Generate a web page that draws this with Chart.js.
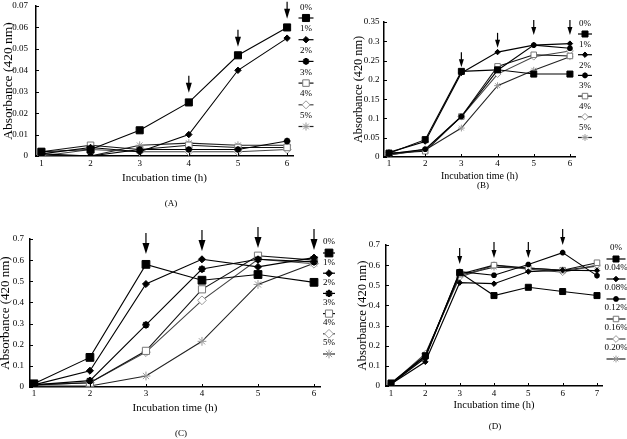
<!DOCTYPE html>
<html>
<head>
<meta charset="utf-8">
<script src="https://cdn.jsdelivr.net/npm/chart.js@4.4.1/dist/chart.umd.min.js"></script>
<style>
  body { margin: 0; background: #fff; width: 627px; height: 439px; position: relative; overflow: hidden;
         font-family: "Liberation Serif", "Times New Roman", serif; }
  canvas { position: absolute; }
  .tag { position: absolute; font-size: 9px; color: #000; transform: translate(-50%, -50%); white-space: nowrap; }
</style>
</head>
<body>
<canvas id="cA" width="320" height="200" style="left:0;top:0"></canvas>
<canvas id="cB" width="297" height="200" style="left:330px;top:0"></canvas>
<canvas id="cC" width="345" height="229" style="left:-3px;top:210px"></canvas>
<canvas id="cD" width="282" height="229" style="left:345px;top:210px"></canvas>
<div class="tag" style="left:171px;top:203px">(A)</div>
<div class="tag" style="left:483px;top:185px">(B)</div>
<div class="tag" style="left:181px;top:433px">(C)</div>
<div class="tag" style="left:495px;top:426px">(D)</div>

<script>
/* ── Data ─────────────────────────────────── */
const hours6 = [1, 2, 3, 4, 5, 6];
const hours7 = [1, 2, 3, 4, 5, 6, 7];
const saltLabels = ['0%', '1%', '2%', '3%', '4%', '5%'];
const extractLabels = ['0%', '0.04%', '0.08%', '0.12%', '0.16%', '0.20%'];

// (A)
const absA = [
  [0.002, 0.003, 0.012, 0.025, 0.047, 0.060],
  [0.001, 0.004, 0.002, 0.010, 0.040, 0.055],
  [0.001, 0.000, 0.003, 0.003, 0.003, 0.007],
  [0.002, 0.005, 0.003, 0.005, 0.004, 0.004],
  [0.000, 0.003, 0.002, 0.002, 0.002, 0.003],
  [0.000, 0.000, 0.005, 0.006, 0.005, 0.005],
];
// (B)
const absB = [
  [0.010, 0.045, 0.222, 0.226, 0.215, 0.215],
  [0.012, 0.040, 0.218, 0.272, 0.290, 0.294],
  [0.008, 0.020, 0.105, 0.225, 0.290, 0.282],
  [0.010, 0.015, 0.105, 0.235, 0.265, 0.262],
  [0.005, 0.020, 0.105, 0.215, 0.260, 0.275],
  [0.005, 0.018, 0.075, 0.185, 0.225, 0.260],
];
// (C)
const absC = [
  [0.015, 0.140, 0.580, 0.505, 0.532, 0.495],
  [0.010, 0.077, 0.487, 0.604, 0.568, 0.612],
  [0.010, 0.030, 0.294, 0.558, 0.604, 0.592],
  [0.010, 0.020, 0.171, 0.462, 0.621, 0.600],
  [0.010, 0.020, 0.165, 0.410, 0.604, 0.583],
  [0.005, 0.005, 0.052, 0.216, 0.485, 0.585],
];
// (D)
const absD = [
  [0.015, 0.150, 0.563, 0.449, 0.490, 0.469, 0.449],
  [0.010, 0.120, 0.513, 0.508, 0.568, 0.575, 0.573],
  [0.010, 0.140, 0.568, 0.550, 0.603, 0.662, 0.548],
  [0.010, 0.150, 0.555, 0.600, 0.585, 0.575, 0.612],
  [0.010, 0.160, 0.540, 0.600, 0.580, 0.565, 0.600],
  [0.010, 0.150, 0.550, 0.590, 0.585, 0.575, 0.595],
];

const ticksA = [0, 0.01, 0.02, 0.03, 0.04, 0.05, 0.06, 0.07];
const tickLabelsA = ['0', '0.01', '0.02', '0.03', '0.04', '0.05', '0.06', '0.07'];
const ticksB = [0, 0.05, 0.1, 0.15, 0.2, 0.25, 0.3, 0.35];
const tickLabelsB = ['0', '0.05', '0.1', '0.15', '0.2', '0.25', '0.3', '0.35'];
const ticksCD = [0, 0.1, 0.2, 0.3, 0.4, 0.5, 0.6, 0.7];
const tickLabelsCD = ['0', '0.1', '0.2', '0.3', '0.4', '0.5', '0.6', '0.7'];

// arrows: hour and absorbance of the arrow tip
const arrowHoursA = [4, 5, 6];
const arrowTipsA = [0.0295, 0.051, 0.064];
const arrowHoursB = [3, 4, 5, 6];
const arrowTipsB = [0.233, 0.283, 0.316, 0.316];
const arrowHoursC = [3, 4, 5, 6];
const arrowTipsC = [0.629, 0.643, 0.657, 0.648];
const arrowHoursD = [3, 4, 5, 6];
const arrowTipsD = [0.606, 0.635, 0.635, 0.70];

/* ── Styles ───────────────────────────────── */
const FONT = '"Liberation Serif", "Times New Roman", serif';
const seriesStyle = [
  { pointStyle: 'rect',    r: 5,   bw: 1,   fill: '#000', stroke: '#000', line: '#000' },
  { pointStyle: 'rectRot', r: 3.2, bw: 1,   fill: '#000', stroke: '#000', line: '#000' },
  { pointStyle: 'star',    r: 3.3, bw: 2,   fill: '#000', stroke: '#000', line: '#000' },
  { pointStyle: 'rect',    r: 4.6, bw: 1,   fill: '#fff', stroke: '#777', line: '#111' },
  { pointStyle: 'rectRot', r: 4,   bw: 1,   fill: '#fff', stroke: '#999', line: '#444' },
  { pointStyle: 'star',    r: 4,   bw: 1,   fill: '#fff', stroke: '#999', line: '#222' },
];

/* ── Decoration plugin: inward ticks, arrows, legend ── */
const decor = {
  id: 'decor',
  afterDraw(chart, args, o) {
    const { ctx, chartArea: ca, scales: { x, y } } = chart;
    ctx.save();
    ctx.strokeStyle = '#000';
    ctx.lineWidth = 1;
    ctx.beginPath();
    y.ticks.forEach(t => {
      const py = Math.round(y.getPixelForValue(t.value)) + 0.5;
      ctx.moveTo(ca.left, py); ctx.lineTo(ca.left + 3, py);
    });
    x.ticks.forEach(t => {
      const px = Math.round(x.getPixelForValue(t.value)) + 0.5;
      ctx.moveTo(px, ca.bottom); ctx.lineTo(px, ca.bottom - 3);
    });
    ctx.stroke();

    // arrows
    const a = o.arrow;
    ctx.fillStyle = '#000';
    ctx.lineWidth = 1.2;
    o.arrowHours.forEach((h, i) => {
      const px = x.getPixelForValue(h);
      const tip = y.getPixelForValue(o.arrowTips[i]);
      ctx.beginPath();
      ctx.moveTo(px, tip - a.len);
      ctx.lineTo(px, tip - a.head + 1);
      ctx.stroke();
      ctx.beginPath();
      ctx.moveTo(px - a.w / 2, tip - a.head);
      ctx.lineTo(px + a.w / 2, tip - a.head);
      ctx.lineTo(px, tip);
      ctx.closePath();
      ctx.fill();
    });

    // legend
    const L = o.legend;
    ctx.font = `9px ${FONT}`;
    ctx.textAlign = 'center';
    ctx.textBaseline = 'middle';
    o.labels.forEach((lab, i) => {
      const s = seriesStyle[i];
      ctx.fillStyle = '#000';
      ctx.fillText(lab, L.cx, L.textY + i * L.step);
      const my = L.markY + i * L.step;
      ctx.strokeStyle = s.line;
      ctx.lineWidth = 1.2;
      ctx.beginPath();
      ctx.moveTo(L.cx - L.half, my); ctx.lineTo(L.cx + L.half, my);
      ctx.stroke();
      ctx.fillStyle = s.fill;
      ctx.strokeStyle = s.stroke;
      ctx.lineWidth = s.bw;
      Chart.helpers.drawPoint(ctx, { pointStyle: s.pointStyle, radius: s.r * o.mk, rotation: 0, borderWidth: s.bw }, L.cx, my);
    });
    ctx.restore();
  }
};

function buildChart(id, p) {
  const datasets = p.series.map((vals, i) => {
    const s = seriesStyle[i];
    return {
      label: p.labels[i],
      data: p.hours.map((h, k) => ({ x: h, y: vals[k] })),
      borderColor: s.line,
      borderWidth: 1.1,
      pointStyle: s.pointStyle,
      pointRadius: s.r * p.mk,
      pointBorderWidth: s.bw,
      pointBackgroundColor: s.fill,
      pointBorderColor: s.stroke,
      tension: 0,
    };
  });
  return new Chart(document.getElementById(id), {
    type: 'line',
    data: { datasets },
    plugins: [decor],
    options: {
      responsive: false,
      animation: false,
      devicePixelRatio: 1,
      layout: { padding: { left: 0, top: p.padTop, right: p.padRight, bottom: 0 } },
      plugins: {
        legend: { display: false },
        tooltip: { enabled: false },
        decor: {
          arrowHours: p.arrowHours, arrowTips: p.arrowTips, arrow: p.arrow,
          legend: p.legend, labels: p.labels, mk: p.mk,
        },
      },
      scales: {
        x: {
          type: 'linear', min: p.xMin, max: p.xMax,
          afterBuildTicks: sc => { sc.ticks = p.hours.map(v => ({ value: v })); },
          afterFit: sc => { sc.height = p.xH; sc.paddingLeft = 0; sc.paddingRight = 0; },
          grid: { display: false, drawTicks: false },
          border: { display: true, color: '#000', width: 1.5 },
          ticks: { color: '#000', padding: p.xTickPad, maxRotation: 0, autoSkip: false,
                   font: { family: FONT, size: 9, lineHeight: 1 }, callback: v => String(v) },
          title: { display: true, text: 'Incubation time (h)', color: '#000',
                   font: { family: FONT, size: p.xTitleSize, weight: 'normal' }, padding: { top: 0, bottom: p.xTitlePad } },
        },
        y: {
          min: 0, max: p.yTicks[p.yTicks.length - 1],
          afterBuildTicks: sc => { sc.ticks = p.yTicks.map(v => ({ value: v })); },
          afterFit: sc => { sc.width = p.yW; sc.paddingTop = 0; sc.paddingBottom = 0; },
          grid: { display: false, drawTicks: false },
          border: { display: true, color: '#000', width: 1.5 },
          ticks: { color: '#000', padding: p.yTickPad, autoSkip: false,
                   font: { family: FONT, size: 9, lineHeight: 1 },
                   callback: v => p.yTickLabels[p.yTicks.findIndex(t => Math.abs(t - v) < 1e-9)] },
          title: { display: true, text: 'Absorbance (420 nm)', color: '#000',
                   font: { family: FONT, size: p.yTitleSize, weight: 'normal' }, padding: { top: p.yTitlePad, bottom: 0 } },
        },
      },
    },
  });
}

buildChart('cA', {
  hours: hours6, series: absA, labels: saltLabels, yTicks: ticksA, yTickLabels: tickLabelsA,
  arrowHours: arrowHoursA, arrowTips: arrowTipsA, arrow: { len: 17, head: 10, w: 6 },
  xMin: 0.89, xMax: 6.12, yW: 36, xH: 44, padTop: 4, padRight: 27,
  xTickPad: 3.5, yTickPad: 8, xTitleSize: 11, xTitlePad: 15.4, yTitleSize: 13.5, yTitlePad: 0,
  legend: { cx: 306, textY: 7.3, markY: 18, step: 21.7, half: 7.5 }, mk: 1,
});
buildChart('cB', {
  hours: hours6, series: absB, labels: saltLabels, yTicks: ticksB, yTickLabels: tickLabelsB,
  arrowHours: arrowHoursB, arrowTips: arrowTipsB, arrow: { len: 15, head: 8, w: 5 },
  xMin: 0.862, xMax: 6.14, yW: 54, xH: 43, padTop: 22, padRight: 52,
  xTickPad: 2.5, yTickPad: 4.5, xTitleSize: 10, xTitlePad: 18, yTitleSize: 12.3, yTitlePad: 21.6,
  legend: { cx: 255, textY: 24, markY: 34, step: 20.7, half: 7 }, mk: 0.85,
});
buildChart('cC', {
  hours: hours6, series: absC, labels: saltLabels, yTicks: ticksCD, yTickLabels: tickLabelsCD,
  arrowHours: arrowHoursC, arrowTips: arrowTipsC, arrow: { len: 21, head: 11, w: 7 },
  xMin: 0.93, xMax: 6.107, yW: 33, xH: 52, padTop: 29, padRight: 22,
  xTickPad: 2.5, yTickPad: 6, xTitleSize: 11, xTitlePad: 24.4, yTitleSize: 13, yTitlePad: 0.7,
  legend: { cx: 332, textY: 32, markY: 43, step: 20.2, half: 6 }, mk: 1.1,
});
buildChart('cD', {
  hours: hours7, series: absD, labels: extractLabels, yTicks: ticksCD, yTickLabels: tickLabelsCD,
  arrowHours: arrowHoursD, arrowTips: arrowTipsD, arrow: { len: 16, head: 8, w: 5 },
  xMin: 0.854, xMax: 7.146, yW: 41, xH: 53, padTop: 35, padRight: 25,
  xTickPad: 3.5, yTickPad: 6, xTitleSize: 10.5, xTitlePad: 27.7, yTitleSize: 12.6, yTitlePad: 10.4,
  legend: { cx: 271, textY: 38, markY: 49, step: 20, half: 9.5 }, mk: 0.85,
});
</script>
</body>
</html>
